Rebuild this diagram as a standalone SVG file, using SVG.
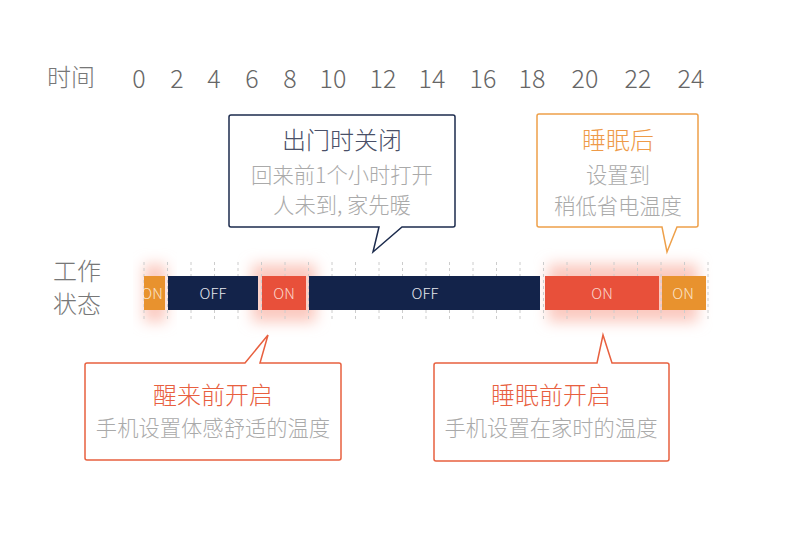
<svg xmlns="http://www.w3.org/2000/svg" width="789" height="549" viewBox="0 0 789 549">
<style>
text{font-family:"Noto Sans CJK SC","Liberation Sans",sans-serif;font-weight:300;}
.ax{font-size:25px;fill:#666;text-anchor:middle;}
.lbl{font-size:24px;fill:#777;}
.seg{font-size:15px;text-anchor:middle;}
.tick{stroke:#ccc;stroke-width:1;stroke-dasharray:3,3;}
.t1{font-size:24px;text-anchor:middle;}
.t2{font-size:21.3px;fill:#aaa;text-anchor:middle;}
.glow{fill:#fbc9bf;filter:url(#blur);}
</style>
<defs>
<filter id="blur" x="-50%" y="-50%" width="200%" height="200%"><feGaussianBlur stdDeviation="7"/></filter>
<clipPath id="c0"><rect x="144" y="276" width="21" height="34"/></clipPath>
</defs>
<g id="axis">
<text x="71" y="86" class="lbl" text-anchor="middle">时间</text>
<text x="139" y="88" class="ax">0</text>
<text x="177" y="88" class="ax">2</text>
<text x="214" y="88" class="ax">4</text>
<text x="252" y="88" class="ax">6</text>
<text x="290" y="88" class="ax">8</text>
<text x="333" y="88" class="ax">10</text>
<text x="383" y="88" class="ax">12</text>
<text x="432" y="88" class="ax">14</text>
<text x="483" y="88" class="ax">16</text>
<text x="532" y="88" class="ax">18</text>
<text x="585" y="88" class="ax">20</text>
<text x="638" y="88" class="ax">22</text>
<text x="691" y="88" class="ax">24</text>
<text x="77" y="280" class="lbl" text-anchor="middle">工作</text>
<text x="77" y="313" class="lbl" text-anchor="middle">状态</text>
</g>
<g id="glows">
<rect class="glow" x="144" y="264" width="22" height="58"/>
<rect class="glow" x="252" y="264" width="64" height="58"/>
<rect class="glow" x="548" y="264" width="150" height="58"/>
</g>
<g id="ticks">
<line class="tick" x1="144" y1="262" x2="144" y2="322"/>
<line class="tick" x1="167.5" y1="262" x2="167.5" y2="322"/>
<line class="tick" x1="191" y1="262" x2="191" y2="322"/>
<line class="tick" x1="214.5" y1="262" x2="214.5" y2="322"/>
<line class="tick" x1="238" y1="262" x2="238" y2="322"/>
<line class="tick" x1="261.5" y1="262" x2="261.5" y2="322"/>
<line class="tick" x1="285" y1="262" x2="285" y2="322"/>
<line class="tick" x1="308.5" y1="262" x2="308.5" y2="322"/>
<line class="tick" x1="332" y1="262" x2="332" y2="322"/>
<line class="tick" x1="355.5" y1="262" x2="355.5" y2="322"/>
<line class="tick" x1="379" y1="262" x2="379" y2="322"/>
<line class="tick" x1="402.5" y1="262" x2="402.5" y2="322"/>
<line class="tick" x1="426" y1="262" x2="426" y2="322"/>
<line class="tick" x1="449.5" y1="262" x2="449.5" y2="322"/>
<line class="tick" x1="473" y1="262" x2="473" y2="322"/>
<line class="tick" x1="496.5" y1="262" x2="496.5" y2="322"/>
<line class="tick" x1="520" y1="262" x2="520" y2="322"/>
<line class="tick" x1="543.5" y1="262" x2="543.5" y2="322"/>
<line class="tick" x1="567" y1="262" x2="567" y2="322"/>
<line class="tick" x1="590.5" y1="262" x2="590.5" y2="322"/>
<line class="tick" x1="614" y1="262" x2="614" y2="322"/>
<line class="tick" x1="637.5" y1="262" x2="637.5" y2="322"/>
<line class="tick" x1="661" y1="262" x2="661" y2="322"/>
<line class="tick" x1="684.5" y1="262" x2="684.5" y2="322"/>
<line class="tick" x1="708" y1="262" x2="708" y2="322"/>
</g>
<g id="bar">
<rect x="144" y="276" width="21" height="34" fill="#e8922e"/>
<text x="152" y="299" class="seg" fill="#fbe3c8" clip-path="url(#c0)">ON</text>
<rect x="168" y="276" width="90" height="34" fill="#13234a"/>
<text x="213" y="299" class="seg" fill="#e6e8ee">OFF</text>
<rect x="262" y="276" width="44" height="34" fill="#e8503a"/>
<text x="284" y="299" class="seg" fill="#fbd6cc">ON</text>
<rect x="309" y="276" width="231" height="34" fill="#13234a"/>
<text x="425" y="299" class="seg" fill="#e6e8ee">OFF</text>
<rect x="545" y="276" width="114" height="34" fill="#e8503a"/>
<text x="602" y="299" class="seg" fill="#fbd6cc">ON</text>
<rect x="662" y="276" width="44" height="34" fill="#e8922e"/>
<text x="683" y="299" class="seg" fill="#fbe3c8">ON</text>
</g>
<g id="callout-off">
<path d="M231,115 H453 Q455,115 455,117 V225 Q455,227 453,227 H402 L373,252 L379,227 H231 Q229,227 229,225 V117 Q229,115 231,115 Z" fill="#fff" stroke="#1c2b4d" stroke-width="1.5"/>
<text x="342" y="149" class="t1" fill="#4a5068">出门时关闭</text>
<text x="342" y="183" class="t2">回来前1个小时打开</text>
<text x="342" y="213" class="t2">人未到, 家先暖</text>
</g>
<g id="callout-sleep-after">
<path d="M539,114 H696 Q698,114 698,116 V225 Q698,227 696,227 H677 L667,252 L662,227 H539 Q537,227 537,225 V116 Q537,114 539,114 Z" fill="#fff" stroke="#eea04a" stroke-width="1.5"/>
<text x="618" y="149" class="t1" fill="#ee9a48">睡眠后</text>
<text x="618" y="183" class="t2">设置到</text>
<text x="618" y="214" class="t2">稍低省电温度</text>
</g>
<g id="callout-wake">
<path d="M87,363 H245 L268,335 L260,363 H339 Q341,363 341,365 V458 Q341,460 339,460 H87 Q85,460 85,458 V365 Q85,363 87,363 Z" fill="#fff" stroke="#e8603f" stroke-width="1.5"/>
<text x="213" y="404" class="t1" fill="#e8603f">醒来前开启</text>
<text x="213" y="436" class="t2">手机设置体感舒适的温度</text>
</g>
<g id="callout-sleep-before">
<path d="M436,363 H597 L603,335 L612,363 H667 Q669,363 669,365 V459 Q669,461 667,461 H436 Q434,461 434,459 V365 Q434,363 436,363 Z" fill="#fff" stroke="#e8603f" stroke-width="1.5"/>
<text x="551" y="404" class="t1" fill="#e8603f">睡眠前开启</text>
<text x="551" y="436" class="t2">手机设置在家时的温度</text>
</g>
</svg>
